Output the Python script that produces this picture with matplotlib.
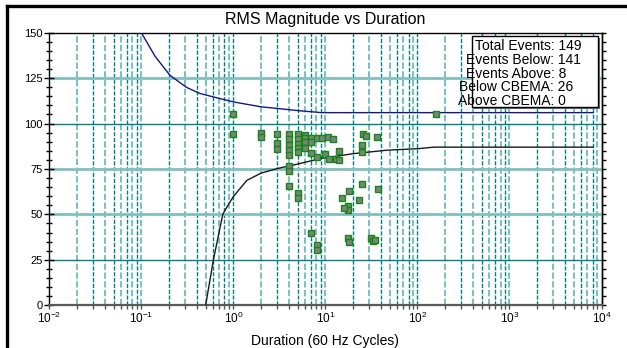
import matplotlib
matplotlib.use('Agg')
import matplotlib.pyplot as plt
from matplotlib.patches import Rectangle
from matplotlib.lines import Line2D
from matplotlib.ticker import MultipleLocator, LogLocator, NullFormatter

plt.rcParams['font.family'] = ['Liberation Sans', 'DejaVu Sans']
plt.rcParams['mathtext.fontset'] = 'custom'
plt.rcParams['mathtext.rm'] = 'Liberation Sans'
plt.rcParams['mathtext.it'] = 'Liberation Sans'
plt.rcParams['mathtext.default'] = 'regular'

# CBEMA curve, upper limit (cycles, % nominal)
upper_dur = [0.1, 0.141, 0.205, 0.31, 0.43, 0.6, 1.0, 2.0, 3.0, 5.3, 7.4, 9.0, 8100]
upper_mag = [150, 137, 126.5, 119.9, 116.6, 114.7, 111.9, 109.2, 108.3, 107.0, 106.4, 106, 106]

# CBEMA curve, lower limit
lower_dur = [0.5, 0.607, 0.767, 0.85, 1.0, 1.4, 2.0, 3.0, 5.3, 8.8, 20, 46, 104, 150, 8100]
lower_mag = [0, 25, 50, 54, 59.8, 68.7, 72.7, 75.2, 78, 80.7, 83.4, 85.3, 86.2, 87, 87]

# recorded events
event_dur = [1.0, 1.0,
             2.0, 2.0,
             3.0, 3.0, 3.0,
             4.0, 4.0, 4.0, 4.0, 4.0, 4.0, 4.0, 4.0,
             5.0, 5.0, 5.0, 5.0, 5.0, 5.0, 5.0,
             6.0, 6.0, 6.0, 6.0,
             7.0, 7.0, 7.0, 7.0,
             8.05, 8.05, 8.05, 8.05,
             9.1, 10.0, 11.0, 10.8, 12.0, 14.0, 13.0, 14.0,
             25.9, 27.5, 36.0, 25.0, 25.0, 25.0, 37.0, 18.0,
             15.3, 23.0, 17.4, 17.4, 15.9,
             17.4, 18.2, 31.0, 33.0, 34.5,
             160.0]
event_mag = [105.1, 94.5,
             94.8, 92.6,
             94.5, 89.3, 85.8,
             94.1, 91.3, 88.0, 85.3, 82.5, 76.6, 73.7, 65.6,
             94.1, 91.7, 89.0, 86.5, 84.3, 61.7, 59.2,
             93.9, 92.1, 89.8, 86.5,
             92.1, 89.8, 83.8, 39.8,
             92.1, 81.6, 33.2, 30.5,
             92.2, 83.4, 80.3, 92.6, 91.7, 85.1, 80.7, 79.7,
             94.1, 93.2, 92.4, 88.0, 84.3, 66.9, 63.7, 62.8,
             59.0, 57.8, 54.5, 52.5, 53.6,
             37.1, 34.7, 37.1, 35.2, 36.1,
             105.0]

stats_labels = ['Total Events', 'Events Below', 'Events Above', 'Below CBEMA', 'Above CBEMA']
stats_values = [149, 141, 8, 26, 0]

W, H = 627, 348
fig = plt.figure(figsize=(W / 100, H / 100), dpi=100)
x0, x1, y0, y1 = 49.3, 601.5, 32.7, 305.2
ax = fig.add_axes([x0 / W, 1 - y1 / H, (x1 - x0) / W, (y1 - y0) / H])

ax.set_xscale('log')
ax.set_xlim(1e-2, 1e4)
ax.set_ylim(0, 150)

# dashed vertical grid at every 1..9 x 10^k
dark, light = '#008080', '#80c0c0'
k = 0
for dec in range(-2, 4):
    for m in range(1, 10):
        v = m * 10.0 ** dec
        if v <= 0.01:
            continue
        odd = k % 2 == 1
        ax.axvline(v, color=dark if odd else light, lw=1.0 if odd else 1.5,
                   ls=(0, (3, 1.2)), zorder=1)
        k += 1

# horizontal grid
for yv, c, w in [(25, dark, 1.0), (50, light, 2.0), (75, light, 2.0),
                 (100, dark, 1.0), (125, light, 2.0)]:
    ax.axhline(yv, color=c, lw=w, zorder=1)

ax.plot(upper_dur, upper_mag, color='#16168c', lw=1.0, zorder=3)
ax.plot(lower_dur, lower_mag, color='#1a1a1a', lw=1.0, zorder=3)
ax.plot(event_dur, event_mag, ls='none', marker='s', ms=3.8,
        mfc='#808080', mec='#108a10', mew=1.0, zorder=4)

ax.set_title('RMS Magnitude vs Duration', fontsize=11.5, pad=6)
ax.set_xlabel('Duration (60 Hz Cycles)', fontsize=10)
ax.xaxis.set_label_coords(0.5, -0.105)

ax.yaxis.set_major_locator(MultipleLocator(25))
ax.yaxis.set_minor_locator(MultipleLocator(5))
ax.tick_params(axis='y', which='major', direction='inout', length=7, width=1,
               labelsize=8, pad=1, left=True, right=False)
ax.tick_params(axis='y', which='minor', direction='inout', length=4, width=1,
               left=True, right=False)
ax.xaxis.set_major_locator(LogLocator(base=10, numticks=10))
ax.xaxis.set_minor_locator(LogLocator(base=10, subs=range(2, 10), numticks=100))
ax.xaxis.set_minor_formatter(NullFormatter())
ax.tick_params(axis='x', which='both', direction='out', length=3, width=1,
               labelsize=8.5, pad=1, colors='#555555', labelcolor='black')

right = ax.secondary_yaxis('right')
right.yaxis.set_major_locator(MultipleLocator(5))
right.tick_params(direction='out', length=3, width=1, labelright=False)

for s in ['left', 'top', 'right']:
    ax.spines[s].set_color('black')
    ax.spines[s].set_linewidth(1.0)
right.spines['right'].set_linewidth(1.0)
ax.spines['bottom'].set_color('#5a5a5a')
ax.spines['bottom'].set_linewidth(1.6)

# summary box with drop shadow
bx0, bx1, by0, by1 = 472, 598, 36, 107
tf = fig.transFigure
fig.add_artist(Rectangle(((bx0 + 2) / W, 1 - (by1 + 2) / H), (bx1 - bx0) / W, (by1 - by0) / H,
                         transform=tf, facecolor='#707070', edgecolor='none', zorder=5))
fig.add_artist(Rectangle((bx0 / W, 1 - by1 / H), (bx1 - bx0) / W, (by1 - by0) / H,
                         transform=tf, facecolor='white', edgecolor='black', lw=1.0, zorder=6))
line_x = [528, 523, 516, 516, 512]
for i, (lab, val) in enumerate(zip(stats_labels, stats_values)):
    fig.text(line_x[i] / W, 1 - (46.5 + 13.6 * i) / H, f'{lab}: {val}', fontsize=10,
             ha='center', va='center', zorder=7)

# outer frame
fig.add_artist(Line2D([7 / W, 7 / W], [0, 1 - 6 / H], transform=tf, color='black', lw=2.4))
fig.add_artist(Line2D([7 / W, 1], [1 - 6 / H, 1 - 6 / H], transform=tf, color='black', lw=2.4))

fig.savefig('out.png', dpi=100)
